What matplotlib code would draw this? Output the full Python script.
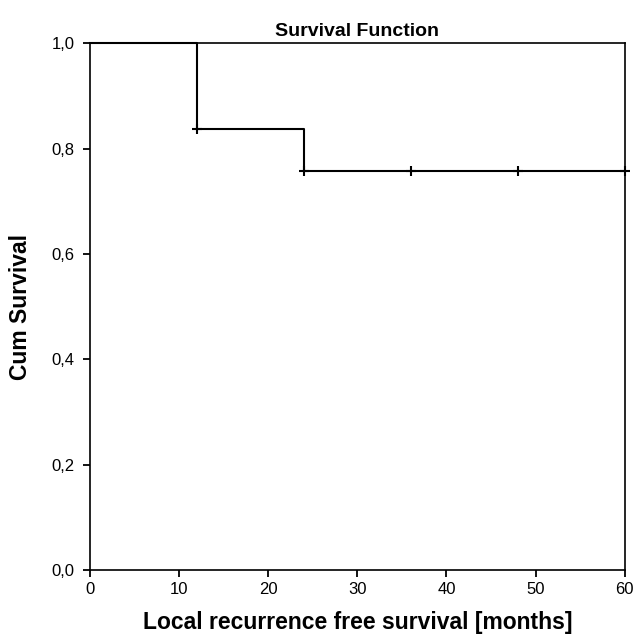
import matplotlib
matplotlib.use("Agg")
import matplotlib.pyplot as plt
from matplotlib.ticker import FuncFormatter

# Kaplan-Meier step data
times = [0, 12, 24, 60]
surv = [1.0, 0.838, 0.757, 0.757]
censor_times = [12, 24, 36, 48, 60]
censor_surv = [0.838, 0.757, 0.757, 0.757, 0.757]

x_ticks = [0, 10, 20, 30, 40, 50, 60]
y_ticks = [0.0, 0.2, 0.4, 0.6, 0.8, 1.0]

plt.rcParams['font.family'] = ['Liberation Sans', 'DejaVu Sans']

fig = plt.figure(figsize=(6.33, 6.36), dpi=100)
ax = fig.add_axes([0.142, 0.104, 0.845, 0.828])

ax.step(times, surv, where='post', color='black', lw=1.5, clip_on=False)
ax.plot(censor_times, censor_surv, linestyle='none', marker='+', color='black',
        markersize=7, mew=1.5, clip_on=False)

ax.set_xlim(0, 60)
ax.set_ylim(0, 1.0)
ax.set_xticks(x_ticks)
ax.set_yticks(y_ticks)
ax.yaxis.set_major_formatter(FuncFormatter(lambda v, p: f"{v:.1f}".replace('.', ',')))
ax.tick_params(direction='out', length=5, width=1.3, labelsize=12, colors='black')
ax.tick_params(axis='y', pad=6)
ax.tick_params(axis='x', pad=4)
for s in ax.spines.values():
    s.set_linewidth(1.2)
    s.set_color('black')

ax.set_title('Survival Function', fontsize=14, fontweight='bold', pad=5)
ax.set_xlabel('Local recurrence free survival [months]', fontsize=16.5, fontweight='bold', labelpad=10)
ax.set_ylabel('Cum Survival', fontsize=16.5, fontweight='bold', labelpad=14)

fig.savefig('out.png', dpi=100)
